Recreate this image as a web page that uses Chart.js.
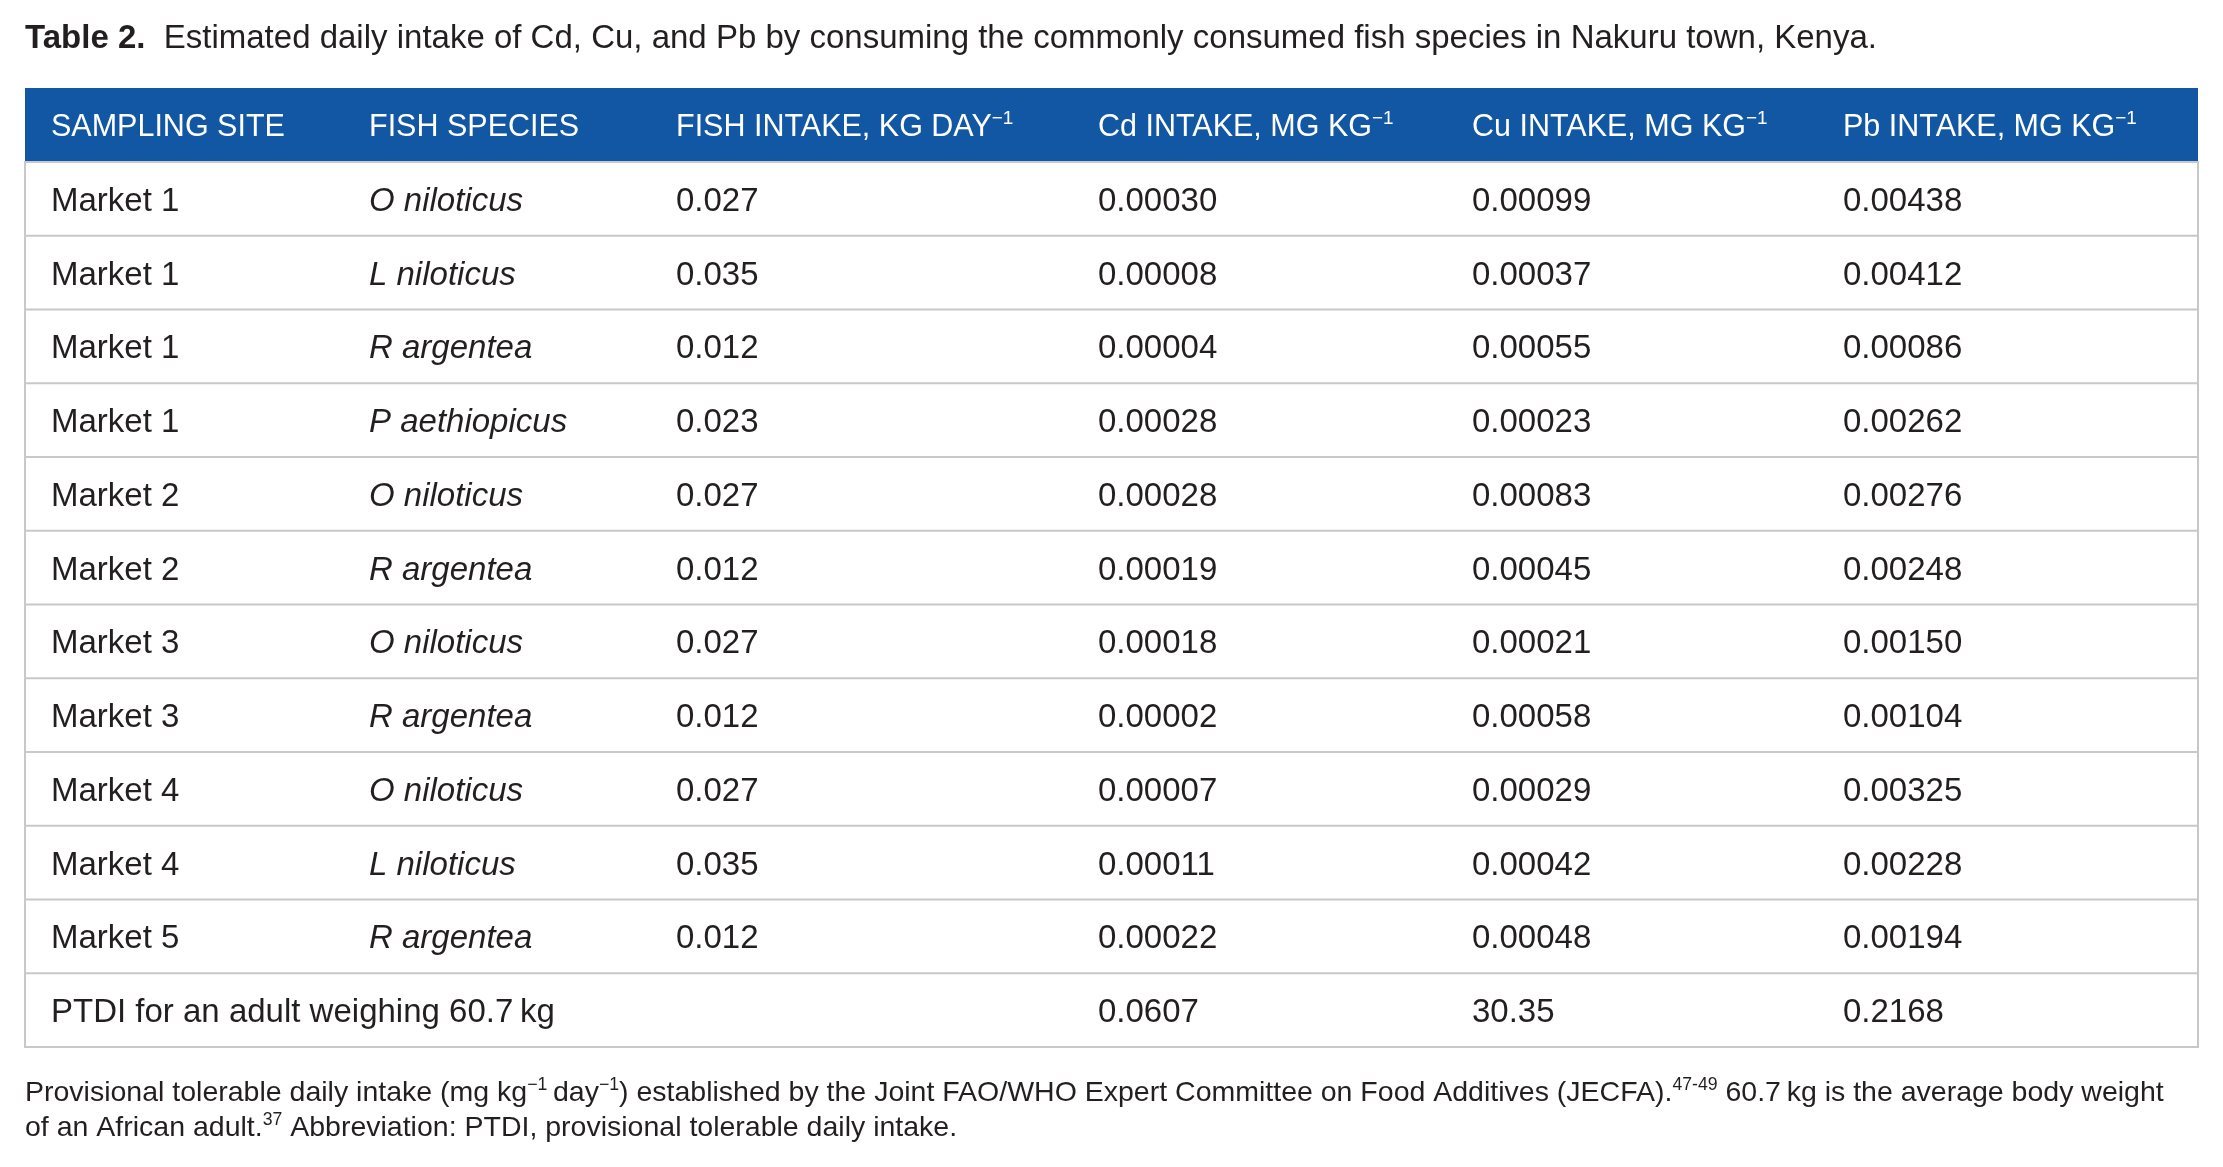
<!DOCTYPE html>
<html>
<head>
<meta charset="utf-8">
<script src="https://cdn.jsdelivr.net/npm/chart.js@4"></script>
<style>
  html, body { margin: 0; padding: 0; background: #fff; }
  canvas { display: block; }
</style>
</head>
<body>
<canvas id="tbl" width="2223" height="1167"></canvas>
<script>
// table data
const sites = ['Market 1', 'Market 1', 'Market 1', 'Market 1', 'Market 2', 'Market 2',
  'Market 3', 'Market 3', 'Market 4', 'Market 4', 'Market 5'];
const species = ['O niloticus', 'L niloticus', 'R argentea', 'P aethiopicus', 'O niloticus',
  'R argentea', 'O niloticus', 'R argentea', 'O niloticus', 'L niloticus', 'R argentea'];
const fishIntake = ['0.027', '0.035', '0.012', '0.023', '0.027', '0.012', '0.027', '0.012', '0.027', '0.035', '0.012'];
const cdIntake = ['0.00030', '0.00008', '0.00004', '0.00028', '0.00028', '0.00019', '0.00018', '0.00002', '0.00007', '0.00011', '0.00022'];
const cuIntake = ['0.00099', '0.00037', '0.00055', '0.00023', '0.00083', '0.00045', '0.00021', '0.00058', '0.00029', '0.00042', '0.00048'];
const pbIntake = ['0.00438', '0.00412', '0.00086', '0.00262', '0.00276', '0.00248', '0.00150', '0.00104', '0.00325', '0.00228', '0.00194'];
const ptdiLabel = 'PTDI for an adult weighing 60.7\u2009kg';
const ptdi = ['0.0607', '30.35', '0.2168'];
const headers = [['SAMPLING SITE', ''], ['FISH SPECIES', ''], ['FISH INTAKE, KG DAY', '\u22121'],
  ['Cd INTAKE, MG KG', '\u22121'], ['Cu INTAKE, MG KG', '\u22121'], ['Pb INTAKE, MG KG', '\u22121']];
const colX = [51, 369, 676, 1098, 1472, 1843];

const rowLabels = sites.map((s, i) => s + ' ' + species[i]).concat(['PTDI']);

const FONT = '"Liberation Sans", Arial, sans-serif';
const INK = '#231f20';

function drawParts(ctx, x, y, parts, size) {
  // parts: [text, style] where style 'n','b','i','sup'
  parts.forEach(([t, st]) => {
    const s = st === 'sup' ? size * 0.62 : size;
    ctx.font = (st === 'b' ? 'bold ' : st === 'i' ? 'italic ' : '') + s + 'px ' + FONT;
    ctx.fillText(t, x, st === 'sup' ? y - size * 0.38 : y);
    x += ctx.measureText(t).width;
  });
}

const tablePlugin = {
  id: 'tablePlugin',
  afterDraw(chart) {
    const ctx = chart.ctx;
    const y = chart.scales.y;
    const area = chart.chartArea;
    const step = y.getPixelForValue(1) - y.getPixelForValue(0);
    ctx.save();
    ctx.textBaseline = 'alphabetic';
    ctx.fillStyle = INK;
    // title
    drawParts(ctx, 25, 48, [['Table 2.', 'b'], ['  Estimated daily intake of Cd, Cu, and Pb by consuming the commonly consumed fish species in Nakuru town, Kenya.', 'n']], 33);
    // header band
    const hTop = area.top - 74;
    ctx.fillStyle = '#1257a3';
    ctx.fillRect(area.left, hTop, area.right - area.left, area.top - hTop);
    ctx.fillStyle = '#fff';
    headers.forEach((h, i) => {
      drawParts(ctx, colX[i], hTop + 48, [[h[0], 'n'], [h[1], 'sup']], 30.5);
    });
    // row lines
    ctx.strokeStyle = '#c8c8c8';
    ctx.lineWidth = 2;
    rowLabels.forEach((_, i) => {
      const yb = y.getPixelForValue(i) + step / 2;
      if (i < rowLabels.length - 1) {
        ctx.beginPath(); ctx.moveTo(area.left, yb); ctx.lineTo(area.right, yb); ctx.stroke();
      }
    });
    ctx.beginPath();
    ctx.rect(area.left, area.top, area.right - area.left, area.bottom - area.top);
    ctx.stroke();
    // cells
    ctx.fillStyle = INK;
    const size = 33;
    sites.forEach((s, i) => {
      const yc = y.getPixelForValue(i) + 12;
      drawParts(ctx, colX[0], yc, [[s, 'n']], size);
      drawParts(ctx, colX[1], yc, [[species[i], 'i']], size);
      drawParts(ctx, colX[2], yc, [[fishIntake[i], 'n']], size);
      drawParts(ctx, colX[3], yc, [[cdIntake[i], 'n']], size);
      drawParts(ctx, colX[4], yc, [[cuIntake[i], 'n']], size);
      drawParts(ctx, colX[5], yc, [[pbIntake[i], 'n']], size);
    });
    const yp = y.getPixelForValue(sites.length) + 12;
    drawParts(ctx, colX[0], yp, [[ptdiLabel, 'n']], size);
    ptdi.forEach((v, k) => drawParts(ctx, colX[3 + k], yp, [[v, 'n']], size));
    // footnote
    const fs = 28.5;
    drawParts(ctx, 25, area.bottom + 54, [
      ['Provisional tolerable daily intake (mg kg', 'n'], ['\u22121', 'sup'], ['\u2009day', 'n'], ['\u22121', 'sup'],
      [') established by the Joint FAO/WHO Expert Committee on Food Additives (JECFA).', 'n'], ['47-49', 'sup'],
      [' 60.7\u2009kg is the average body weight', 'n']], fs);
    drawParts(ctx, 25, area.bottom + 89, [['of an African adult.', 'n'], ['37', 'sup'],
      [' Abbreviation: PTDI, provisional tolerable daily intake.', 'n']], fs);
    ctx.restore();
  }
};

new Chart(document.getElementById('tbl').getContext('2d'), {
  type: 'bar',
  data: {
    labels: rowLabels,
    datasets: [{ data: rowLabels.map(() => 1), backgroundColor: 'rgba(0,0,0,0)' }]
  },
  options: {
    responsive: false,
    animation: false,
    indexAxis: 'y',
    layout: { padding: { left: 25, right: 25, top: 162, bottom: 120 } },
    plugins: { legend: { display: false }, tooltip: { enabled: false } },
    scales: {
      x: { display: false, min: 0, max: 1 },
      y: { display: false, offset: true }
    }
  },
  plugins: [tablePlugin]
});
</script>
</body>
</html>
